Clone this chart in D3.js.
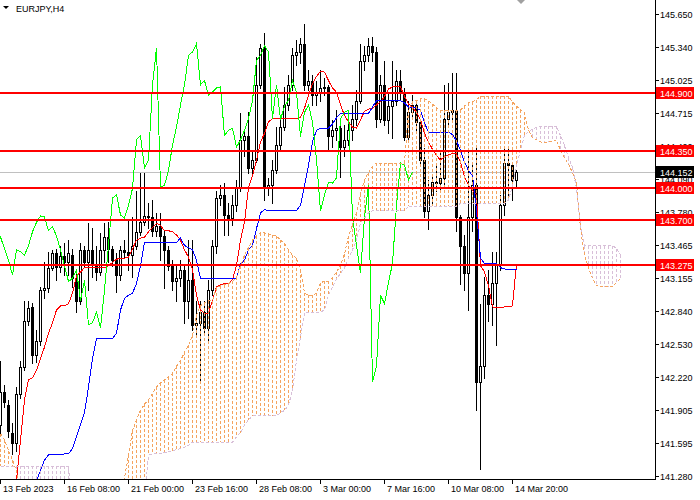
<!DOCTYPE html>
<html><head><meta charset="utf-8">
<script src="https://cdn.jsdelivr.net/npm/d3@7"></script>
<style>
body{margin:0;background:#fff;}
svg{display:block;}
text{font-family:"Liberation Sans",Arial,sans-serif;font-size:9px;}
</style>
</head><body>
<svg id="c" width="700" height="500"></svg>
<script>
const symbol = "EURJPY,H4";
const timeTickBars = [0,16,32,48,64,80,96,112,128];
const timeTickLabels = ["13 Feb 2023","16 Feb 08:00","21 Feb 00:00","23 Feb 16:00","28 Feb 08:00","3 Mar 00:00","7 Mar 16:00","10 Mar 08:00","14 Mar 20:00"];
const priceTicks = [145.650,145.340,145.025,144.715,144.400,144.090,143.780,143.465,143.155,142.840,142.530,142.220,141.905,141.595,141.280];
const levels = [144.900,144.350,144.000,143.700,143.275];
const lastPrice = 144.152;
const chikouShift = 26;

const open = [
141.76,142.07,141.95,141.69,141.59,142.06,142.31,142.75,142.88,142.42,
142.56,143.04,143.06,143.25,143.39,143.26,143.36,143.30,143.37,143.15,
142.94,143.42,143.30,143.42,143.28,143.21,143.42,143.54,143.43,143.32,
143.18,143.42,143.40,143.37,143.46,143.59,143.68,143.74,143.73,143.60,
143.64,143.55,143.42,143.27,143.12,143.15,143.23,142.94,143.13,142.71,
142.73,142.83,142.68,143.04,143.46,143.91,143.94,143.75,143.72,143.84,
144.00,144.46,144.50,144.19,144.27,144.98,145.33,144.01,144.03,144.17,
144.41,144.58,144.79,144.98,145.26,145.29,145.37,144.98,145.02,144.88,
144.91,144.95,144.96,144.50,144.55,144.57,144.39,144.46,144.55,144.66,
144.83,145.21,145.26,145.35,145.29,144.66,144.98,144.65,144.78,144.83,
145.02,144.91,144.49,144.72,144.79,144.63,144.27,143.79,143.94,144.06,
144.05,144.10,144.66,144.72,144.74,143.73,143.46,143.20,143.73,144.03,
142.17,142.32,142.99,142.91,143.11,143.29,143.84,144.24,144.22,144.08];
const close = [
142.07,141.98,141.71,141.59,142.06,142.31,142.75,142.87,142.42,142.56,
143.04,143.06,143.25,143.39,143.26,143.36,143.30,143.39,143.15,142.94,
143.42,143.30,143.42,143.28,143.21,143.42,143.54,143.43,143.32,143.18,
143.42,143.40,143.37,143.46,143.59,143.68,143.74,143.73,143.60,143.64,
143.55,143.42,143.27,143.12,143.15,143.23,142.94,143.13,142.71,142.73,
142.83,142.68,143.04,143.46,143.91,143.94,143.75,143.72,143.84,144.00,
144.46,144.50,144.19,144.27,144.98,145.33,144.01,144.03,144.17,144.41,
144.58,144.79,144.98,145.26,145.29,145.37,144.98,145.02,144.88,144.91,
144.95,144.96,144.50,144.55,144.57,144.39,144.46,144.55,144.66,144.83,
145.21,145.26,145.35,145.29,144.66,144.98,144.65,144.78,144.83,145.02,
144.91,144.49,144.72,144.79,144.63,144.27,143.79,143.94,144.06,144.05,
144.10,144.66,144.72,144.74,143.73,143.46,143.20,143.73,144.03,142.17,
142.32,142.99,142.91,143.11,143.29,143.84,144.24,144.22,144.08,144.152];
const high = [
142.37,142.14,142.00,141.78,142.12,142.37,142.94,142.94,142.92,142.66,
143.07,143.30,143.40,143.42,143.43,143.46,143.48,143.51,143.43,143.23,
143.48,143.46,143.67,143.63,143.46,143.58,143.67,143.68,143.46,143.39,
143.46,143.51,143.70,143.73,143.98,144.15,144.15,143.86,143.89,143.77,
143.77,143.60,143.46,143.32,143.27,143.32,143.27,143.51,143.51,142.94,
142.94,142.94,143.13,143.51,143.98,144.03,144.05,143.86,143.94,144.08,
144.71,144.55,144.72,144.36,145.24,145.37,145.47,144.10,144.27,144.58,
144.65,144.96,145.07,145.33,145.40,145.42,145.56,145.12,145.07,145.02,
145.12,145.04,144.98,144.65,144.74,144.65,144.60,144.66,144.79,144.93,
145.37,145.35,145.42,145.43,145.34,145.07,145.21,144.91,145.21,145.12,
145.12,144.95,144.83,144.88,144.83,144.66,144.38,144.08,144.12,144.22,
144.36,144.98,145.00,145.09,145.09,143.75,143.56,144.36,144.22,144.39,
142.91,143.16,143.23,143.40,143.40,143.94,144.39,144.39,144.25,144.17];
const low = [
141.69,141.93,141.65,141.49,141.52,142.02,142.28,142.71,142.35,142.36,
142.52,142.96,143.02,143.23,143.13,143.21,143.18,143.18,143.07,142.83,
142.91,143.27,143.04,143.16,143.13,143.18,143.30,143.30,143.27,143.02,
143.13,143.34,143.23,143.16,143.43,143.56,143.65,143.63,143.55,143.55,
143.32,143.06,143.23,143.04,142.94,143.08,142.73,142.77,142.66,142.61,
142.16,142.61,142.56,142.99,143.39,143.84,143.56,143.56,143.65,143.79,
143.98,144.31,144.15,144.12,144.25,144.95,143.89,143.94,143.86,144.15,
144.36,144.55,144.74,144.93,145.17,145.19,144.93,144.93,144.79,144.79,
144.83,144.88,144.36,144.39,144.46,144.11,144.31,144.41,144.46,144.60,
144.81,145.12,145.21,145.21,144.58,144.63,144.60,144.52,144.48,144.79,
144.85,144.46,144.46,144.66,144.53,144.22,143.73,143.62,143.84,143.98,
143.98,144.03,144.60,144.65,143.60,143.10,143.04,142.85,143.60,141.90,
141.35,142.21,142.75,142.71,142.52,143.23,143.75,143.89,143.89,144.01];
const tenkan = [
141.00,141.05,141.10,141.15,141.24,141.62,142.00,142.19,142.21,142.28,
142.39,142.50,142.63,142.73,142.85,142.89,142.89,142.91,143.01,143.17,
143.21,143.25,143.25,143.25,143.25,143.25,143.25,143.27,143.30,143.33,
143.34,143.34,143.35,143.43,143.51,143.53,143.54,143.59,143.63,143.67,
143.65,143.60,143.60,143.59,143.56,143.51,143.42,143.35,143.23,142.99,
142.85,142.82,142.82,142.94,143.07,143.09,143.10,143.10,143.14,143.27,
143.51,143.68,144.01,144.12,144.27,144.44,144.52,144.63,144.66,144.66,
144.66,144.66,144.66,144.66,144.66,144.67,144.76,144.88,144.99,145.06,
145.11,145.10,145.02,144.95,144.91,144.79,144.69,144.63,144.58,144.57,
144.65,144.73,144.75,144.76,144.79,144.82,144.87,144.94,144.96,144.96,
144.96,144.87,144.80,144.77,144.72,144.65,144.52,144.44,144.37,144.31,
144.27,144.30,144.32,144.33,144.33,144.25,144.11,144.03,143.98,143.94,
143.27,143.21,143.08,142.88,142.87,142.87,142.88,142.88,142.89,143.29];
const kijun = [
140.90,140.95,141.00,141.05,141.08,141.10,141.13,141.16,141.20,141.24,
141.33,141.43,141.48,141.48,141.48,141.48,141.49,141.49,141.54,141.65,
141.77,141.88,142.12,142.39,142.58,142.58,142.58,142.58,142.58,142.63,
142.85,142.96,142.99,143.01,143.10,143.27,143.49,143.49,143.49,143.49,
143.49,143.49,143.49,143.49,143.49,143.53,143.46,143.44,143.42,143.32,
143.15,143.15,143.15,143.15,143.15,143.15,143.15,143.15,143.15,143.15,
143.29,143.32,143.42,143.46,143.62,143.77,143.80,143.79,143.79,143.79,
143.79,143.79,143.79,143.79,143.79,143.84,144.03,144.22,144.44,144.55,
144.57,144.57,144.57,144.61,144.67,144.71,144.71,144.71,144.71,144.71,
144.71,144.71,144.71,144.77,144.83,144.83,144.83,144.83,144.83,144.83,
144.83,144.81,144.77,144.77,144.76,144.74,144.62,144.53,144.53,144.53,
144.53,144.53,144.53,144.51,144.45,144.36,144.25,144.17,144.12,143.79,
143.34,143.29,143.29,143.29,143.29,143.25,143.24,143.23,143.23,143.23];
const spanA = [
141.68,141.62,141.52,141.43,141.33,141.10,141.10,141.10,141.10,141.10,
141.10,141.10,141.10,141.10,141.10,141.10,141.10,141.10,141.10,141.10,
141.10,141.10,141.10,141.10,141.10,141.10,141.10,141.10,141.10,141.10,
141.10,141.26,141.48,141.71,141.81,141.90,141.96,142.00,142.06,142.12,
142.16,142.19,142.22,142.25,142.32,142.37,142.45,142.52,142.61,142.80,
142.89,142.92,142.94,142.94,143.06,143.08,143.09,143.10,143.12,143.16,
143.27,143.37,143.44,143.51,143.55,143.58,143.58,143.57,143.56,143.55,
143.51,143.48,143.42,143.37,143.34,143.23,143.01,142.99,142.99,143.01,
143.11,143.12,143.12,143.16,143.21,143.27,143.38,143.55,143.66,143.77,
143.95,144.08,144.15,144.21,144.24,144.24,144.24,144.24,144.24,144.24,
144.24,144.24,144.74,144.82,144.83,144.85,144.85,144.83,144.80,144.76,
144.74,144.74,144.74,144.74,144.74,144.74,144.78,144.81,144.82,144.84,
144.87,144.87,144.87,144.87,144.87,144.87,144.87,144.87,144.82,144.78,
144.74,144.72,144.55,144.48,144.46,144.44,144.43,144.44,144.45,144.46,
144.36,144.29,144.23,144.15,144.05,143.62,143.37,143.25,143.15,143.08,
143.07,143.07,143.07,143.07,143.11,143.15];
const spanB = [
141.37,141.37,141.37,141.37,141.37,141.37,141.37,141.37,141.37,141.37,
141.37,141.37,141.37,141.37,141.37,141.37,141.37,141.37,141.05,141.05,
141.05,141.05,141.05,141.05,141.05,141.05,141.05,141.05,141.05,141.05,
141.05,141.05,141.05,141.05,141.05,141.05,141.05,141.48,141.49,141.49,
141.49,141.50,141.51,141.52,141.53,141.54,141.55,141.57,141.60,141.60,
141.60,141.60,141.60,141.60,141.60,141.60,141.60,141.60,141.60,141.65,
141.69,141.76,141.81,141.85,141.85,141.85,141.85,141.85,141.85,141.85,
141.88,141.90,141.95,142.09,142.37,142.59,142.82,142.83,142.83,142.83,
142.83,142.85,142.99,143.07,143.14,143.20,143.25,143.34,143.42,143.51,
143.67,143.72,143.77,143.79,143.79,143.79,143.79,143.79,143.79,143.79,
143.79,143.79,143.83,143.83,143.83,143.83,143.83,143.83,143.83,143.83,
143.83,143.83,143.83,143.83,143.83,143.86,143.86,143.86,143.86,143.86,
143.86,143.86,143.86,143.86,143.86,143.86,143.86,143.89,144.03,144.22,
144.36,144.50,144.54,144.56,144.58,144.59,144.59,144.59,144.59,144.59,
144.50,144.41,144.29,144.20,144.00,143.65,143.46,143.46,143.46,143.46,
143.46,143.46,143.46,143.46,143.43,143.37];

const PR = 655, PB = 479;
const svg = d3.select("#c");
svg.append("rect").attr("width",700).attr("height",500).attr("fill","#fff");
const x = d3.scaleLinear().domain([0, 1]).range([0.5, 4.5]);
const y = d3.scaleLinear().domain([141.280, 145.650]).range([476, 14]);
const Yp = v => Math.round(y(v));

svg.append("clipPath").attr("id","clip").append("rect")
  .attr("x",0).attr("y",0).attr("width",PR).attr("height",PB);
const g = svg.append("g").attr("clip-path","url(#clip)");

// bid line
g.append("line").attr("x1",0).attr("x2",PR)
  .attr("y1",Yp(lastPrice)+0.5).attr("y2",Yp(lastPrice)+0.5)
  .attr("stroke","#c0c0c0").attr("shape-rendering","crispEdges");

// candles
const bars = d3.range(close.length);
const cg = g.append("g").attr("shape-rendering","crispEdges");
cg.selectAll("line.wick").data(bars).join("line").attr("class","wick")
  .attr("x1", i=>x(i)).attr("x2", i=>x(i))
  .attr("y1", i=>Yp(high[i])).attr("y2", i=>Yp(low[i])+1)
  .attr("stroke","#000");
cg.selectAll("rect.body").data(bars).join("rect").attr("class","body")
  .attr("x", i=>x(i)-1).attr("width",2)
  .attr("y", i=>Yp(Math.max(open[i],close[i]))+0.5)
  .attr("height", i=>Math.max(0, Yp(Math.min(open[i],close[i])) - Yp(Math.max(open[i],close[i]))))
  .attr("fill", i=> close[i]>=open[i] ? "#fff" : "#000")
  .attr("stroke","#000");

const lg = g.append("g").attr("fill","none").attr("shape-rendering","crispEdges");
const lineIdx = d3.line().x((d,i)=>x(i)).y(d=>y(d));
lg.append("path").attr("d", lineIdx(tenkan)).attr("stroke","#ff0000");
lg.append("path").attr("d", lineIdx(kijun)).attr("stroke","#0000ff");

// cloud hatch
const sandy = "#f4a460", thistle = "#d8bfd8";
const cloudIdx = d3.range(spanA.length);
lg.selectAll("line.cloud").data(cloudIdx).join("line").attr("class","cloud")
  .attr("x1", i=>x(i)).attr("x2", i=>x(i))
  .attr("y1", i=>Math.min(Yp(spanA[i]),Yp(spanB[i])))
  .attr("y2", i=>Math.max(Yp(spanA[i]),Yp(spanB[i])))
  .attr("stroke", i=> spanA[i]>=spanB[i] ? sandy : thistle)
  .attr("stroke-dasharray","3,2");

// chikou
const lineChikou = d3.line().x((d,i)=>x(i-chikouShift)).y(d=>y(d));
lg.append("path").attr("d", lineChikou(close)).attr("stroke","#00ff00");

// span boundary lines
lg.append("path").attr("d", lineIdx(spanA)).attr("stroke",sandy).attr("stroke-dasharray","3,2");
lg.append("path").attr("d", lineIdx(spanB)).attr("stroke",thistle).attr("stroke-dasharray","3,2");

// level lines
g.selectAll("line.level").data(levels).join("line").attr("class","level")
  .attr("x1",0).attr("x2",PR)
  .attr("y1", d=>Yp(d)).attr("y2", d=>Yp(d))
  .attr("stroke","#ff0000").attr("stroke-width",2).attr("shape-rendering","crispEdges");

// axes
const ax = svg.append("g").attr("shape-rendering","crispEdges");
ax.append("line").attr("x1",PR+0.5).attr("x2",PR+0.5).attr("y1",0).attr("y2",PB+1).attr("stroke","#000");
ax.append("line").attr("x1",0).attr("x2",PR+1).attr("y1",PB+0.5).attr("y2",PB+0.5).attr("stroke","#000");

const fmt = d3.format(".3f");
ax.selectAll("line.pt").data(priceTicks).join("line").attr("class","pt")
  .attr("x1",PR).attr("x2",PR+4).attr("y1",d=>Yp(d)+0.5).attr("y2",d=>Yp(d)+0.5).attr("stroke","#000");
svg.selectAll("text.pt").data(priceTicks).join("text").attr("class","pt")
  .attr("x",PR+5).attr("y",d=>Yp(d)+3.5).attr("fill","#000").text(d=>fmt(d));

ax.selectAll("line.tt").data(timeTickBars).join("line").attr("class","tt")
  .attr("x1",d=>x(d)).attr("x2",d=>x(d)).attr("y1",PB).attr("y2",PB+5).attr("stroke","#000");
svg.selectAll("text.tt").data(timeTickBars).join("text").attr("class","tt")
  .attr("x",d=>x(d)+2.5).attr("y",PB+13).attr("fill","#000")
  .text((d,i)=>timeTickLabels[i]);

// level labels
const lb = svg.append("g");
lb.selectAll("rect").data(levels).join("rect")
  .attr("x",PR+1).attr("y",d=>Yp(d)-6).attr("width",38).attr("height",12).attr("fill","#ff0000");
lb.selectAll("text").data(levels).join("text")
  .attr("x",PR+5).attr("y",d=>Yp(d)+3.5).attr("fill","#fff").text(d=>fmt(d));
svg.append("rect").attr("x",PR+1).attr("y",Yp(lastPrice)-6).attr("width",38).attr("height",12).attr("fill","#000");
svg.append("text").attr("x",PR+5).attr("y",Yp(lastPrice)+3.5).attr("fill","#fff").text(fmt(lastPrice));

// title & shift marker
svg.append("path").attr("d","M3,6 L9,6 L6,9 Z").attr("fill","#000");
svg.append("text").attr("x",16).attr("y",12).attr("fill","#000").text(symbol);
svg.append("path").attr("d","M517,0 L525,0 L521,4 Z").attr("fill","#a0a0a0");
</script>
</body></html>
